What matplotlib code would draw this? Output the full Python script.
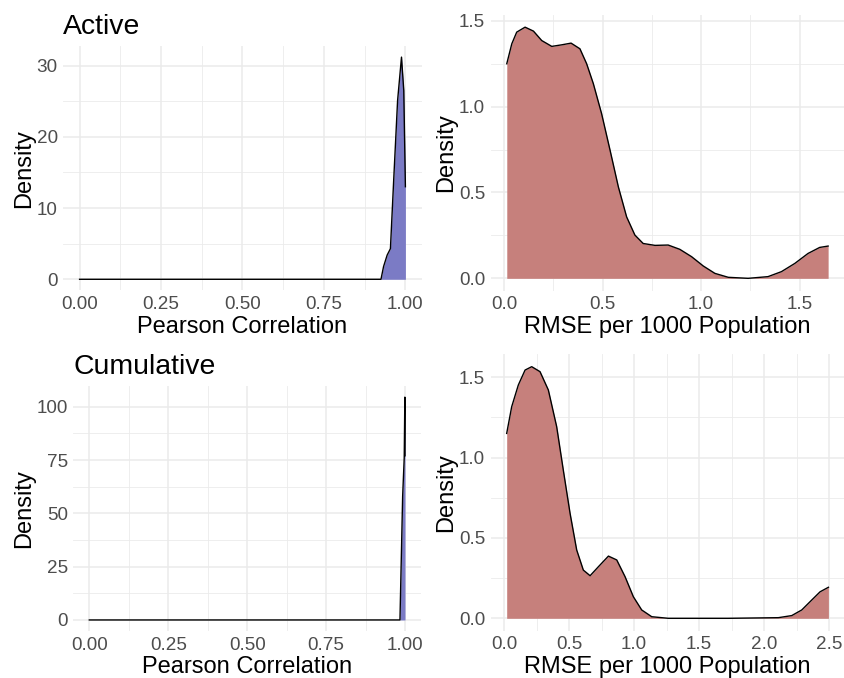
import matplotlib
matplotlib.use("Agg")
import matplotlib.pyplot as plt
from matplotlib.ticker import MultipleLocator, FormatStrFormatter

plt.rcParams['font.family'] = ['Liberation Sans', 'DejaVu Sans']

# ---- data ----
# Active: Pearson correlation density
act_corr_x = [0.0, 0.5, 0.925, 0.933, 0.944, 0.954, 0.964, 0.976, 0.988, 0.995, 1.0]
act_corr_y = [0.0, 0.0, 0.0, 1.8, 3.4, 4.3, 13.9, 25.1, 31.2, 26.5, 13.0]

# Active: RMSE per 1000 density
act_rmse_x = [0.0135, 0.039, 0.064, 0.1065, 0.149, 0.191, 0.242, 0.292, 0.340, 0.385,
              0.419, 0.453, 0.495, 0.538, 0.580, 0.622, 0.664, 0.706, 0.766, 0.833,
              0.892, 0.952, 1.011, 1.070, 1.138, 1.239, 1.340, 1.408, 1.476, 1.543,
              1.602, 1.645]
act_rmse_y = [1.250, 1.366, 1.434, 1.463, 1.440, 1.385, 1.351, 1.360, 1.370, 1.337,
              1.250, 1.134, 0.959, 0.746, 0.533, 0.358, 0.252, 0.203, 0.192, 0.194,
              0.169, 0.126, 0.072, 0.029, 0.006, 0.000, 0.010, 0.039, 0.087, 0.145,
              0.180, 0.188]

# Cumulative: Pearson correlation density
cum_corr_x = [0.0, 0.5, 0.984, 0.9925, 0.9975, 0.9995, 1.0]
cum_corr_y = [0.0, 0.0, 0.0, 58.0, 76.0, 104.5, 77.0]

# Cumulative: RMSE per 1000 density
cum_rmse_x = [0.0205, 0.059, 0.110, 0.162, 0.213, 0.277, 0.341, 0.405, 0.456, 0.508,
              0.559, 0.610, 0.662, 0.726, 0.803, 0.867, 0.931, 0.995, 1.059, 1.136,
              1.264, 1.725, 2.110, 2.213, 2.290, 2.367, 2.431, 2.495]
cum_rmse_y = [1.150, 1.316, 1.451, 1.544, 1.565, 1.534, 1.420, 1.192, 0.922, 0.653,
              0.425, 0.300, 0.265, 0.321, 0.387, 0.363, 0.259, 0.134, 0.052, 0.010,
              0.000, 0.000, 0.004, 0.017, 0.052, 0.114, 0.165, 0.193]

titles = ["Active", "Cumulative"]
corr_xticks = [0.0, 0.25, 0.5, 0.75, 1.0]
corr_xlabels = ["0.00", "0.25", "0.50", "0.75", "1.00"]

BLUE = "#7B7BC5"
RED = "#C6807C"
GRID = "#EBEBEB"

W, H = 845, 678
fig = plt.figure(figsize=(W / 100, H / 100), dpi=100)


def make_ax(l, t, r, b):
    return fig.add_axes([l / W, 1 - b / H, (r - l) / W, (b - t) / H])


def style(ax, xmaj, xmin, ymaj, ymin):
    for s in ax.spines.values():
        s.set_visible(False)
    ax.xaxis.set_major_locator(MultipleLocator(xmaj))
    ax.xaxis.set_minor_locator(MultipleLocator(xmin))
    ax.yaxis.set_major_locator(MultipleLocator(ymaj))
    ax.yaxis.set_minor_locator(MultipleLocator(ymin))
    ax.grid(which='major', color=GRID, lw=1.1)
    ax.grid(which='minor', color=GRID, lw=0.6)
    ax.set_axisbelow(True)
    ax.tick_params(which='both', length=0)
    ax.tick_params(which='major', labelsize=13.6, labelcolor='#4D4D4D', pad=4)
    ax.margins(x=0.05, y=0.05)


def density(ax, x, y, color):
    ax.fill_between(x, 0, y, color=color, lw=0)
    ax.plot(x, y, color='black', lw=1.0, solid_joinstyle='round')


# Top-left
ax1 = make_ax(63.3, 46, 421.7, 290.4)
density(ax1, act_corr_x, act_corr_y, BLUE)
style(ax1, 0.25, 0.125, 10, 5)
ax1.set_xticks(corr_xticks)
ax1.set_xticklabels(corr_xlabels)
ax1.set_title(titles[0], loc='left', fontsize=20.4, pad=9)

# Top-right
ax2 = make_ax(490.7, 14.6, 844.2, 290.9)
density(ax2, act_rmse_x, act_rmse_y, RED)
style(ax2, 0.5, 0.25, 0.5, 0.25)
ax2.xaxis.set_major_formatter(FormatStrFormatter('%.1f'))
ax2.yaxis.set_major_formatter(FormatStrFormatter('%.1f'))

# Bottom-left
ax3 = make_ax(73.5, 386, 420.8, 631.1)
density(ax3, cum_corr_x, cum_corr_y, BLUE)
style(ax3, 0.25, 0.125, 25, 12.5)
ax3.set_xticks(corr_xticks)
ax3.set_xticklabels(corr_xlabels)
ax3.set_title(titles[1], loc='left', fontsize=20.4, pad=9)

# Bottom-right
ax4 = make_ax(490.6, 354.1, 844.5, 630.9)
density(ax4, cum_rmse_x, cum_rmse_y, RED)
style(ax4, 0.5, 0.25, 0.5, 0.25)
ax4.xaxis.set_major_formatter(FormatStrFormatter('%.1f'))
ax4.yaxis.set_major_formatter(FormatStrFormatter('%.1f'))

for ax in (ax1, ax3):
    ax.set_xlabel("Pearson Correlation", fontsize=17, labelpad=2)
    ax.set_ylabel("Density", fontsize=17, labelpad=1)
for ax in (ax2, ax4):
    ax.set_xlabel("RMSE per 1000 Population", fontsize=17, labelpad=2)
    ax.set_ylabel("Density", fontsize=17, labelpad=1)

fig.savefig("out.png", dpi=100, facecolor='white')
